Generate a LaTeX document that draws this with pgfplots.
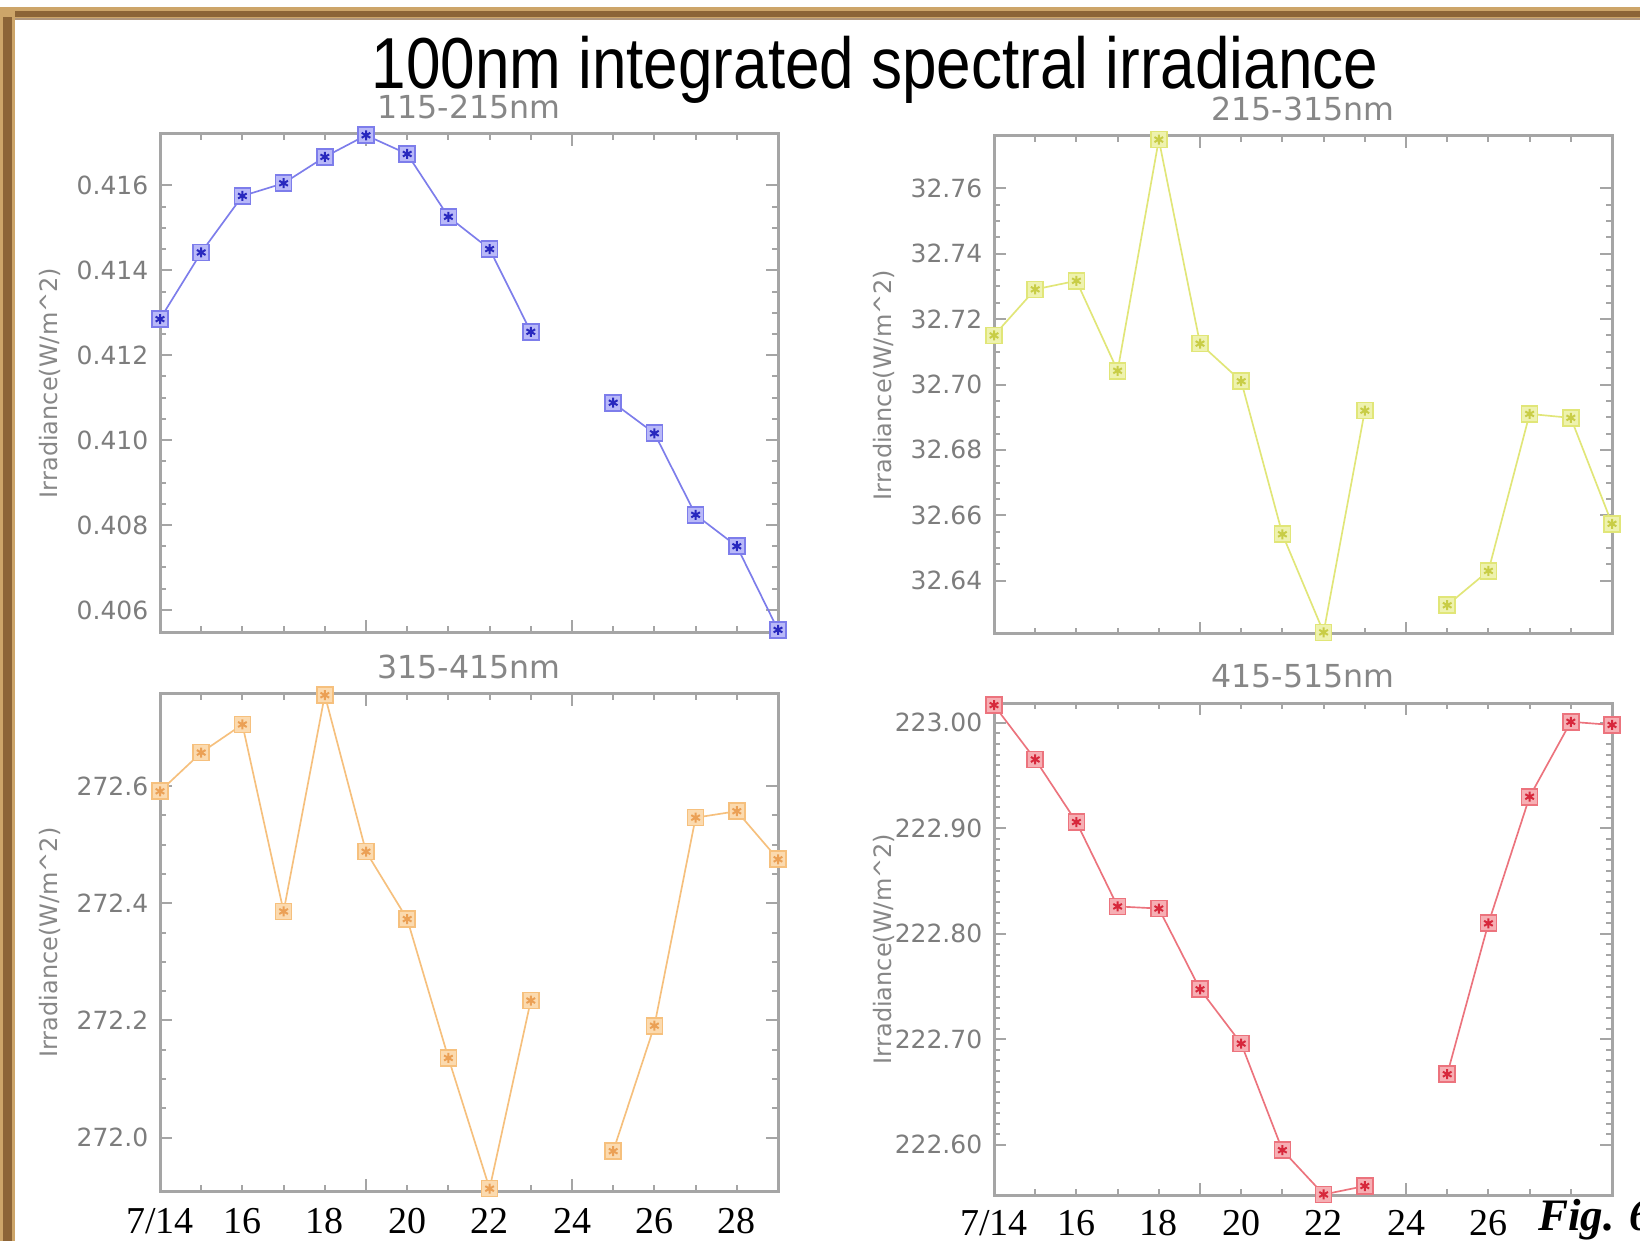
\documentclass[border=0pt]{standalone}
\usepackage{fontspec}
\setmainfont{Liberation Serif}
\newfontfamily\lsans{Liberation Sans}
\newfontfamily\dvs{DejaVu Sans}
\usepackage{graphicx}
\usepackage{pgfplots}
\usepackage{pgfplotstable}
\pgfplotsset{compat=1.18}

\definecolor{axgray}{RGB}{165,165,165}
\definecolor{tickgray}{RGB}{125,125,125}
\definecolor{labgray}{RGB}{135,135,135}
\definecolor{bLine}{RGB}{125,125,235}
\definecolor{bHalo}{RGB}{185,185,248}
\definecolor{bDark}{RGB}{40,40,190}
\definecolor{yLine}{RGB}{225,230,120}
\definecolor{yHalo}{RGB}{238,242,175}
\definecolor{yDark}{RGB}{200,205,70}
\definecolor{oLine}{RGB}{246,192,125}
\definecolor{oHalo}{RGB}{251,218,175}
\definecolor{oDark}{RGB}{235,160,85}
\definecolor{rLine}{RGB}{236,115,125}
\definecolor{rHalo}{RGB}{246,175,180}
\definecolor{rDark}{RGB}{215,40,60}
\definecolor{brA}{RGB}{205,165,105}
\definecolor{brB}{RGB}{140,100,55}
\definecolor{brC}{RGB}{175,150,125}

\pgfplotstableread{
x y
14 0.41285
15 0.41442
16 0.41575
17 0.41605
18 0.41667
19 0.41718
20 0.41674
21 0.41526
22 0.41450
23 0.41255
24 nan
25 0.41088
26 0.41016
27 0.40824
28 0.40750
29 0.40553
}\tA

\pgfplotstableread{
x y
14 32.7150
15 32.7291
16 32.7317
17 32.7042
18 32.7749
19 32.7125
20 32.7010
21 32.6542
22 32.6242
23 32.6920
24 nan
25 32.6325
26 32.6430
27 32.6910
28 32.6898
29 32.6574
}\tB

\pgfplotstableread{
x y
14 272.591
15 272.657
16 272.705
17 272.386
18 272.755
19 272.488
20 272.373
21 272.136
22 271.913
23 272.234
24 nan
25 271.977
26 272.191
27 272.546
28 272.557
29 272.475
}\tC

\pgfplotstableread{
x y
14 223.0168
15 222.9653
16 222.906
17 222.826
18 222.824
19 222.7475
20 222.696
21 222.595
22 222.553
23 222.561
24 nan
25 222.667
26 222.810
27 222.930
28 223.001
29 222.998
}\tD

\pgfplotsset{
  panel/.style={
    scale only axis, width=185.4pt, anchor=south west,
    xmin=14, xmax=29, xtick={14,19,24,29}, xticklabels={},
    minor x tick num=4, minor y tick num=3,
    axis line style={draw=axgray, line width=0.9pt},
    tick style={draw=axgray, line width=0.6pt},
    major tick length=3.6pt, minor tick length=1.8pt,
    tick align=inside,
    yticklabel style={font=\dvs\fontsize{7.5}{8}\selectfont, text=tickgray},
    ylabel={Irradiance(W/m\textasciicircum 2)},
    ylabel style={font=\dvs\fontsize{7.2}{8}\selectfont, text=labgray,
      at={(axis description cs:-0.178,0.5)}, anchor=center},
    title style={font=\dvs\fontsize{9.5}{10}\selectfont, text=labgray,
      at={(axis description cs:0.5,1)}, anchor=center, yshift=2pt},
    unbounded coords=jump,
  },
  xlabs/.style 2 args={
    extra x ticks={#2},
    extra x tick labels={7/14,16,18,20,22,24,26,28},
    extra x tick style={major tick length=0pt,
      xticklabel style={font=\fontsize{11.4}{12}\selectfont, text=black,
        anchor=base, yshift=#1}},
  },
}

\newcommand{\series}[4]{%
  \addplot[color=#2, line width=0.5pt, mark=square*, mark size=2.4pt,
    mark options={fill=#3, draw=none}] table[x=x,y=y] {#1};
  \addplot[only marks, mark=asterisk, mark size=1.5pt, color=#4,
    mark options={line width=0.6pt}] table[x=x,y=y] {#1};
}

\begin{document}
\begin{tikzpicture}
\path[use as bounding box] (0,0) rectangle (492pt,372.3pt);
\fill[white] (0,0) rectangle (492pt,372.3pt);
% frame
\fill[brA] (0,366.3pt) rectangle (492pt,370.2pt);
\fill[brB] (0,367.2pt) rectangle (492pt,369.0pt);
\fill[brC] (0,366.3pt) rectangle (492pt,366.9pt);
\fill[brA] (0,0) rectangle (4.5pt,370.2pt);
\fill[brB] (0.9pt,0) rectangle (3.6pt,367.2pt);

\node[anchor=base, inner sep=0pt] at (262.5pt,345.6pt)
  {\resizebox{302pt}{15.7pt}{\lsans 100nm integrated spectral irradiance}};

\begin{axis}[panel, at={(48pt,182.7pt)}, height=149.4pt,
  ymin=0.40548, ymax=0.41721,
  ytick={0.406,0.408,0.410,0.412,0.414,0.416},
  yticklabels={0.406,0.408,0.410,0.412,0.414,0.416},
  title={115-215nm}]
\series{\tA}{bLine}{bHalo}{bDark}
\end{axis}

\begin{axis}[panel, at={(298.2pt,182.1pt)}, height=149.4pt,
  ymin=32.6237, ymax=32.776,
  ytick={32.64,32.66,32.68,32.70,32.72,32.74,32.76},
  yticklabels={32.64,32.66,32.68,32.70,32.72,32.74,32.76},
  title={215-315nm}]
\series{\tB}{yLine}{yHalo}{yDark}
\end{axis}

\begin{axis}[panel, xlabs={-12.8pt}{14,16,18,20,22,24,26,28}, at={(48pt,15pt)}, height=149.1pt,
  ymin=271.909, ymax=272.757,
  ytick={272.0,272.2,272.4,272.6},
  yticklabels={272.0,272.2,272.4,272.6},
  title={315-415nm}]
\series{\tC}{oLine}{oHalo}{oDark}
\end{axis}

\begin{axis}[panel, xlabs={-12pt}{14,16,18,20,22,24,26}, at={(298.2pt,13.8pt)}, height=147.6pt,
  ymin=222.5525, ymax=223.0188, minor y tick num=9,
  ytick={222.6,222.7,222.8,222.9,223.0},
  yticklabels={222.60,222.70,222.80,222.90,223.00},
  title={415-515nm}]
\series{\tD}{rLine}{rHalo}{rDark}
\end{axis}

\node[anchor=base west, inner sep=0pt] at (461.3pt,3.2pt)
  {\fontsize{13.5}{14}\selectfont\bfseries\itshape Fig. 6};
\end{tikzpicture}
\end{document}
